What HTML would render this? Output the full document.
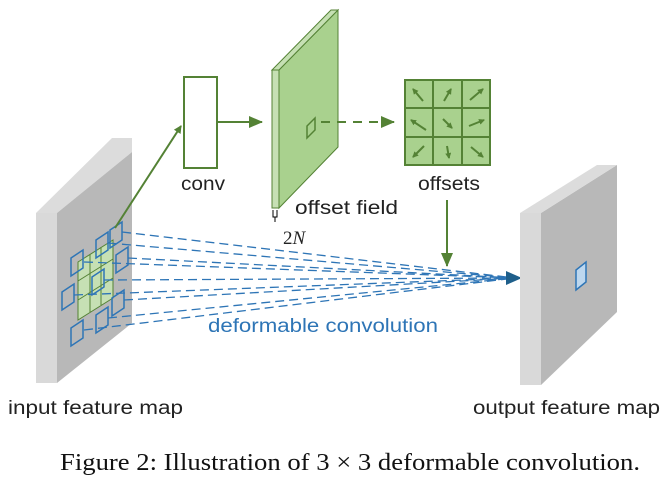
<!DOCTYPE html>
<html><head><style>body{margin:0;background:#fff}svg{display:block}</style></head><body>
<svg width="671" height="490" viewBox="0 0 671 490" xmlns="http://www.w3.org/2000/svg">
<defs>
<marker id="ga" markerWidth="8" markerHeight="8" refX="7" refY="4" orient="auto" markerUnits="userSpaceOnUse"><path d="M0,0 L8,4 L0,8 z" fill="#548235"/></marker>
<marker id="ga2" markerWidth="14" markerHeight="12" refX="13" refY="6" orient="auto" markerUnits="userSpaceOnUse"><path d="M0,0 L14,6 L0,12 z" fill="#548235"/></marker>
<marker id="sa" markerWidth="6" markerHeight="6" refX="5" refY="3" orient="auto" markerUnits="userSpaceOnUse"><path d="M0,0 L6,3 L0,6 z" fill="#548235"/></marker>
</defs>
<!-- input feature map -->
<polygon points="36,213 57,213 132,152 132,138 112,138" fill="#dcdcdc"/>
<polygon points="57,213 132,152 132,323 57,383" fill="#b8b8b8"/>
<rect x="36" y="213" width="21" height="170" fill="#d9d9d9"/>
<!-- green grid -->
<polygon points="78,262 113,240 113,298 78,320" fill="#c6e0b4" stroke="#548235" stroke-width="1"/>
<line x1="90" y1="254" x2="90" y2="312" stroke="#548235"/><line x1="101" y1="247" x2="101" y2="305" stroke="#548235"/>
<line x1="78" y1="281" x2="113" y2="259" stroke="#548235"/><line x1="78" y1="300" x2="113" y2="278" stroke="#548235"/>
<!-- dashed lines -->
<g stroke="#2e75b6" stroke-width="1.3" stroke-dasharray="9,5" fill="none">
<line x1="122" y1="232" x2="515" y2="278"/><line x1="108" y1="243" x2="515" y2="278"/>
<line x1="128" y1="258" x2="515" y2="278"/><line x1="84" y1="262" x2="515" y2="278"/>
<line x1="104" y1="280" x2="515" y2="278"/><line x1="74" y1="295" x2="515" y2="278"/>
<line x1="124" y1="300" x2="515" y2="278"/><line x1="108" y1="318" x2="515" y2="278"/>
<line x1="84" y1="330" x2="515" y2="278"/>
</g>
<polygon points="522,278 506,271 506,285" fill="#1f5f8b"/>
<!-- blue patches -->
<g fill="none" stroke="#2e75b6" stroke-width="1.5">
<polygon points="110,230 122,222 122,240 110,248"/><polygon points="96,240 108,232 108,250 96,258"/>
<polygon points="71,258 83,250 83,268 71,276"/><polygon points="116,255 128,247 128,265 116,273"/>
<polygon points="92,277 104,269 104,287 92,295"/><polygon points="62,292 74,284 74,302 62,310"/>
<polygon points="112,298 124,290 124,308 112,316"/><polygon points="96,315 108,307 108,325 96,333"/>
<polygon points="71,328 83,320 83,338 71,346"/>
</g>
<line x1="115" y1="228" x2="181" y2="126" stroke="#548235" stroke-width="2" marker-end="url(#ga)"/>
<!-- conv -->
<rect x="184" y="77" width="33" height="91" fill="#fff" stroke="#548235" stroke-width="2"/>
<line x1="217" y1="122" x2="262" y2="122" stroke="#548235" stroke-width="2" marker-end="url(#ga2)"/>
<!-- offset field -->
<polygon points="279,70 338,10 338,147 279,208" fill="#a9d18e" stroke="#548235" stroke-width="1"/>
<polygon points="272,70 279,70 338,10 331,10" fill="#c6e0b4" stroke="#548235" stroke-width="1"/>
<rect x="272" y="70" width="7" height="138" fill="#c6e0b4" stroke="#548235" stroke-width="1"/>
<polygon points="307,132 315,124 315,112 307,120" fill="none" stroke="#548235" stroke-width="1.5" transform="translate(0,6)"/>
<line x1="321" y1="122" x2="394" y2="122" stroke="#548235" stroke-width="2" stroke-dasharray="9,7" marker-end="url(#ga2)"/>
<path d="M273,210 v7 h4 v-7 M275,217 v5" fill="none" stroke="#000" stroke-width="1"/>
<!-- offsets grid -->
<rect x="405" y="80" width="85" height="85" fill="#a9d18e" stroke="#548235" stroke-width="2"/>
<line x1="433" y1="80" x2="433" y2="165" stroke="#548235" stroke-width="2"/><line x1="462" y1="80" x2="462" y2="165" stroke="#548235" stroke-width="2"/>
<line x1="405" y1="108" x2="490" y2="108" stroke="#548235" stroke-width="2"/><line x1="405" y1="137" x2="490" y2="137" stroke="#548235" stroke-width="2"/>
<g stroke="#548235" stroke-width="2" marker-end="url(#sa)">
<line x1="423" y1="101" x2="413" y2="89"/><line x1="444" y1="101" x2="451" y2="89"/><line x1="470" y1="100" x2="483" y2="89"/>
<line x1="426" y1="130" x2="411" y2="120"/><line x1="443" y1="119" x2="452" y2="128"/><line x1="469" y1="126" x2="484" y2="120"/>
<line x1="424" y1="146" x2="413" y2="157"/><line x1="447" y1="146" x2="449" y2="158"/><line x1="471" y1="147" x2="483" y2="157"/>
</g>
<line x1="447" y1="200" x2="447" y2="266" stroke="#548235" stroke-width="2" marker-end="url(#ga2)"/>
<!-- output feature map -->
<polygon points="541,213 617,165 617,312 541,385" fill="#b8b8b8"/>
<polygon points="520,213 541,213 617,165 597,165" fill="#dcdcdc"/>
<rect x="520" y="213" width="21" height="172" fill="#d9d9d9"/>
<polygon points="576,290 586,282 586,262 576,270" fill="#bdd7ee" stroke="#2e75b6" stroke-width="1.5"/>
<!-- text -->
<g font-family="Liberation Sans, sans-serif" font-size="19" fill="#222">
<text x="181" y="190" textLength="44" lengthAdjust="spacingAndGlyphs">conv</text>
<text x="295" y="214" textLength="103" lengthAdjust="spacingAndGlyphs">offset field</text>
<text x="418" y="190" textLength="62" lengthAdjust="spacingAndGlyphs">offsets</text>
<text x="8" y="414" textLength="175" lengthAdjust="spacingAndGlyphs">input feature map</text>
<text x="473" y="414" textLength="187" lengthAdjust="spacingAndGlyphs">output feature map</text>
<text x="208" y="332" fill="#2e75b6" textLength="230" lengthAdjust="spacingAndGlyphs">deformable convolution</text>
</g>
<text x="283" y="244" font-family="Liberation Serif, serif" font-size="19" font-style="italic" fill="#222"><tspan font-style="normal">2</tspan>N</text>
<text x="60" y="470" font-family="Liberation Serif, serif" font-size="24" fill="#111" textLength="580" lengthAdjust="spacingAndGlyphs">Figure 2: Illustration of 3 × 3 deformable convolution.</text>
</svg>
</body></html>
